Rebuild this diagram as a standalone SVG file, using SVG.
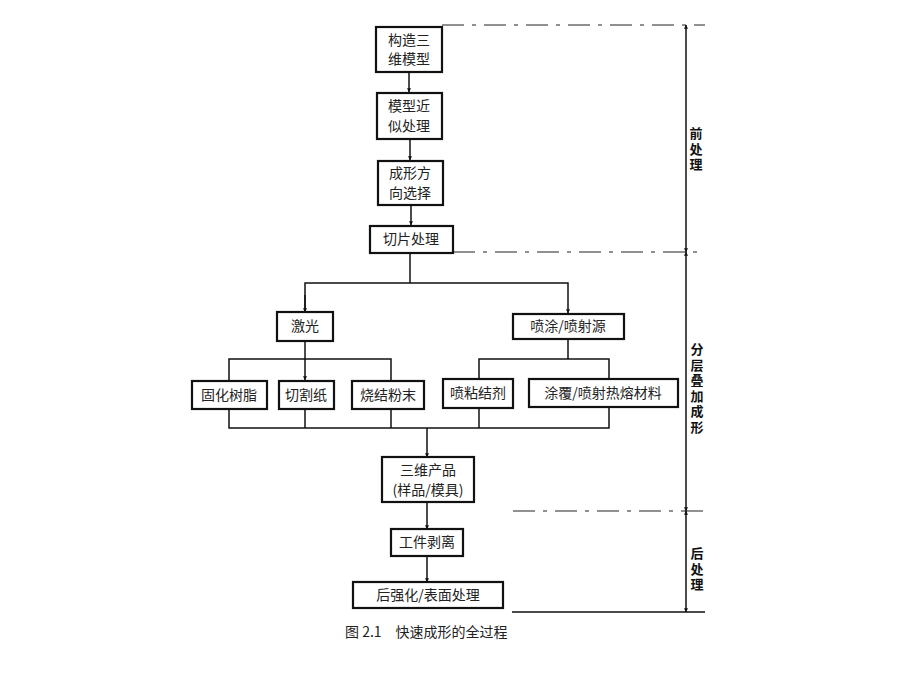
<svg xmlns="http://www.w3.org/2000/svg" width="920" height="690" viewBox="0 0 920 690">
<defs>
<marker id="ah" viewBox="0 0 6 8" refX="5.5" refY="3" markerWidth="4" markerHeight="6" orient="auto-start-reverse" markerUnits="userSpaceOnUse">
<path d="M0,0 L6,3 L0,6 z" fill="#111"/>
</marker>
<style>
.box{fill:#fff;stroke:#111;stroke-width:2.2}
.t{font-family:"Noto Sans CJK SC","Noto Sans CJK JP",sans-serif;font-size:14px;fill:#222;text-anchor:middle}
.side{font-family:"Noto Sans CJK SC","Noto Sans CJK JP",sans-serif;font-size:13px;font-weight:bold;fill:#111;writing-mode:vertical-rl;letter-spacing:2.5px}
.ln{fill:none;stroke:#111;stroke-width:1.5}
.dl{fill:none;stroke:#222;stroke-width:1.2;stroke-dasharray:22 8 4 8}
.cap{font-family:"Noto Sans CJK SC","Noto Sans CJK JP",sans-serif;font-size:14px;fill:#222}
</style>
</defs>
<rect width="920" height="690" fill="#fff"/>

<g id="connectors">
<line class="ln" x1="409" y1="72" x2="409" y2="92" marker-end="url(#ah)"/>
<line class="ln" x1="410" y1="139" x2="410" y2="160" marker-end="url(#ah)"/>
<line class="ln" x1="411" y1="205" x2="411" y2="225" marker-end="url(#ah)"/>
<polyline class="ln" points="410,253 410,283"/>
<polyline class="ln" points="305,312 305,283 568,283 568,313" marker-end="url(#ah)"/>
<line class="ln" x1="305" y1="295" x2="305" y2="312" marker-end="url(#ah)"/>
<line class="ln" x1="305" y1="341" x2="305" y2="380" marker-end="url(#ah)"/>
<polyline class="ln" points="229,380 229,359 391,359 391,380"/>
<line class="ln" x1="568" y1="339" x2="568" y2="359"/>
<polyline class="ln" points="479,378 479,359 609,359 609,378"/>
<polyline class="ln" points="229,409 229,428 609,428 609,407"/>
<line class="ln" x1="305" y1="409" x2="305" y2="428"/>
<line class="ln" x1="391" y1="409" x2="391" y2="428"/>
<line class="ln" x1="479" y1="408" x2="479" y2="428"/>
<line class="ln" x1="427" y1="428" x2="427" y2="457" marker-end="url(#ah)"/>
<line class="ln" x1="427" y1="502" x2="427" y2="529" marker-end="url(#ah)"/>
<line class="ln" x1="427" y1="548" x2="427" y2="582" marker-end="url(#ah)"/>
<line class="dl" x1="442" y1="25" x2="705" y2="25"/>
<line class="dl" x1="453" y1="252" x2="705" y2="252"/>
<line class="dl" x1="513" y1="511" x2="705" y2="511"/>
<line class="ln" x1="512" y1="612" x2="705" y2="612"/>
<line class="ln" x1="686" y1="25" x2="686" y2="252" marker-start="url(#ah)" marker-end="url(#ah)"/>
<line class="ln" x1="686" y1="252" x2="686" y2="511" marker-start="url(#ah)" marker-end="url(#ah)"/>
<line class="ln" x1="686" y1="511" x2="686" y2="612" marker-start="url(#ah)" marker-end="url(#ah)"/>
</g>

<g id="n1"><rect class="box" x="376" y="27" width="66" height="45"/><text class="t" x="409" y="45">构造三</text><text class="t" x="409" y="64">维模型</text></g>
<g id="n2"><rect class="box" x="377" y="93" width="65" height="46"/><text class="t" x="409" y="111">模型近</text><text class="t" x="409" y="131">似处理</text></g>
<g id="n3"><rect class="box" x="378" y="161" width="65" height="44"/><text class="t" x="410" y="178">成形方</text><text class="t" x="410" y="198">向选择</text></g>
<g id="n4"><rect class="box" x="370" y="226" width="83" height="27"/><text class="t" x="411" y="244">切片处理</text></g>
<g id="n5"><rect class="box" x="277" y="312" width="56" height="29"/><text class="t" x="305" y="331">激光</text></g>
<g id="n6"><rect class="box" x="513" y="314" width="111" height="25"/><text class="t" x="568" y="331">喷涂/喷射源</text></g>
<g id="n7"><rect class="box" x="192" y="381" width="75" height="28"/><text class="t" x="229" y="400">固化树脂</text></g>
<g id="n8"><rect class="box" x="279" y="381" width="55" height="28"/><text class="t" x="306" y="400">切割纸</text></g>
<g id="n9"><rect class="box" x="352" y="381" width="72" height="28"/><text class="t" x="388" y="400">烧结粉末</text></g>
<g id="n10"><rect class="box" x="443" y="379" width="70" height="29"/><text class="t" x="478" y="398">喷粘结剂</text></g>
<g id="n11"><rect class="box" x="529" y="379" width="149" height="28"/><text class="t" x="603" y="398">涂覆/喷射热熔材料</text></g>
<g id="n12"><rect class="box" x="382" y="457" width="92" height="45"/><text class="t" x="428" y="475">三维产品</text><text class="t" x="428" y="495">(样品/模具)</text></g>
<g id="n13"><rect class="box" x="391" y="529" width="72" height="27"/><text class="t" x="427" y="547">工件剥离</text></g>
<g id="n14"><rect class="box" x="353" y="582" width="150" height="26"/><text class="t" x="428" y="600">后强化/表面处理</text></g>

<g id="labels">
<text class="side" x="696" y="127">前处理</text>
<text class="side" x="697" y="343">分层叠加成形</text>
<text class="side" x="697" y="547">后处理</text>
<text class="cap" x="345" y="637">图 2.1　快速成形的全过程</text>
</g>
</svg>
